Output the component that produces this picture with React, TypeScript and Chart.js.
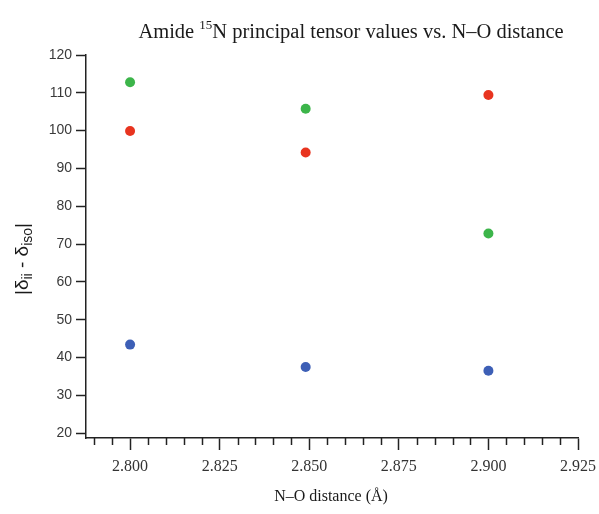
import React, { useEffect, useRef } from "react";
import { Chart, registerables } from "chart.js";

Chart.register(...registerables);

const xValues = [2.8, 2.849, 2.9];
const greenValues = [112.8, 105.8, 72.8];
const redValues = [99.9, 94.2, 109.4];
const blueValues = [43.4, 37.5, 36.5];
const xTicks = [2.8, 2.825, 2.85, 2.875, 2.9, 2.925];
const xMinorTicks = [2.79, 2.795, 2.805, 2.81, 2.815, 2.82, 2.83, 2.835, 2.84, 2.845, 2.855, 2.86, 2.865, 2.87, 2.88, 2.885, 2.89, 2.895, 2.905, 2.91, 2.915, 2.92];
const yTicks = [20, 30, 40, 50, 60, 70, 80, 90, 100, 110, 120];

const titleParts = { before: "Amide ", sup: "15", after: "N principal tensor values vs. N–O distance" };
const xTitle = "N–O distance (Å)";

const textPlugin = {
  id: "customText",
  afterDraw(chart: any) {
    const ctx = chart.ctx as CanvasRenderingContext2D;
    const xs = chart.scales.x;
    ctx.save();
    // minor ticks
    ctx.strokeStyle = "#222";
    ctx.lineWidth = 1.5;
    const bottom = chart.chartArea.bottom;
    xMinorTicks.forEach((v) => {
      const px = Math.round(xs.getPixelForValue(v)) + 0.5;
      ctx.beginPath();
      ctx.moveTo(px, bottom);
      ctx.lineTo(px, bottom + 7);
      ctx.stroke();
    });
    // title
    ctx.fillStyle = "#1a1a1a";
    ctx.textBaseline = "alphabetic";
    const big = "20.5px 'Liberation Serif', 'Times New Roman', serif";
    const small = "13px 'Liberation Serif', 'Times New Roman', serif";
    ctx.font = big;
    const w1 = ctx.measureText(titleParts.before).width;
    const w3 = ctx.measureText(titleParts.after).width;
    ctx.font = small;
    const w2 = ctx.measureText(titleParts.sup).width;
    const total = w1 + w2 + w3;
    let tx = 351 - total / 2;
    const ty = 38;
    ctx.font = big;
    ctx.fillText(titleParts.before, tx, ty);
    tx += w1;
    ctx.font = small;
    ctx.fillText(titleParts.sup, tx, ty - 9);
    tx += w2;
    ctx.font = big;
    ctx.fillText(titleParts.after, tx, ty);
    // x title
    ctx.font = "16px 'Liberation Serif', 'Times New Roman', serif";
    ctx.textAlign = "center";
    ctx.fillText(xTitle, 331, 501);
    // y title
    ctx.translate(28, 259);
    ctx.rotate(-Math.PI / 2);
    const parts: [string, boolean][] = [["|δ", false], ["ii", true], [" - δ", false], ["iso", true], ["|", false]];
    const bigS = "19px 'Liberation Sans', Arial, sans-serif";
    const smallS = "14px 'Liberation Sans', Arial, sans-serif";
    let tot = 0;
    parts.forEach(([s, sub]) => {
      ctx.font = sub ? smallS : bigS;
      tot += ctx.measureText(s).width;
    });
    let cx = -tot / 2;
    ctx.textAlign = "left";
    parts.forEach(([s, sub]) => {
      ctx.font = sub ? smallS : bigS;
      ctx.fillText(s, cx, sub ? 4 : 0);
      cx += ctx.measureText(s).width;
    });
    ctx.restore();
  },
};

export default function App() {
  const ref = useRef<HTMLCanvasElement | null>(null);
  useEffect(() => {
    if (!ref.current) return;
    const mk = (arr: number[]) => xValues.map((x, i) => ({ x, y: arr[i] }));
    const chart = new Chart(ref.current, {
      type: "scatter",
      data: {
        datasets: [
          { label: "green", data: mk(greenValues), backgroundColor: "#3cb54a", borderColor: "#3cb54a", pointRadius: 5, borderWidth: 0 },
          { label: "red", data: mk(redValues), backgroundColor: "#e8341f", borderColor: "#e8341f", pointRadius: 5, borderWidth: 0 },
          { label: "blue", data: mk(blueValues), backgroundColor: "#3d5fb6", borderColor: "#3d5fb6", pointRadius: 5, borderWidth: 0 },
        ],
      },
      options: {
        animation: false,
        responsive: true,
        maintainAspectRatio: false,
        layout: { padding: { top: 55, right: 21, left: 0, bottom: 0 } },
        plugins: { legend: { display: false }, title: { display: false }, tooltip: { enabled: false } },
        scales: {
          x: {
            type: "linear",
            min: 2.7877,
            max: 2.925,
            afterBuildTicks: (axis: any) => {
              axis.ticks = xTicks.map((v) => ({ value: v }));
            },
            afterFit: (axis: any) => {
              axis.height = 76;
              axis.paddingRight = 0;
              axis.paddingLeft = 0;
            },
            grid: { drawOnChartArea: false, drawTicks: true, tickLength: 12, tickColor: "#222", tickWidth: 1.5 },
            border: { display: true, color: "#222", width: 1.5 },
            ticks: {
              autoSkip: false,
              maxRotation: 0,
              padding: 7,
              color: "#333",
              font: { family: "'Liberation Serif', 'Times New Roman', serif", size: 16 },
              callback: (v: any) => Number(v).toFixed(3),
            },
          },
          y: {
            type: "linear",
            min: 18.7,
            max: 120,
            afterBuildTicks: (axis: any) => {
              axis.ticks = yTicks.map((v) => ({ value: v }));
            },
            afterFit: (axis: any) => {
              axis.width = 86;
              axis.paddingTop = 0;
              axis.paddingBottom = 0;
            },
            grid: { drawOnChartArea: false, drawTicks: true, tickLength: 10, tickColor: "#222", tickWidth: 1.5 },
            border: { display: true, color: "#222", width: 1.5 },
            ticks: {
              autoSkip: false,
              padding: 4,
              color: "#3a3a3a",
              font: { family: "'Liberation Sans', Arial, sans-serif", size: 14 },
              callback: (v: any) => String(v),
            },
          },
        },
      },
      plugins: [textPlugin],
    });
    return () => chart.destroy();
  }, []);
  return (
    <div style={{ position: "absolute", left: 0, top: 0, width: 599, height: 514, background: "#fff" }}>
      <canvas ref={ref} />
    </div>
  );
}
